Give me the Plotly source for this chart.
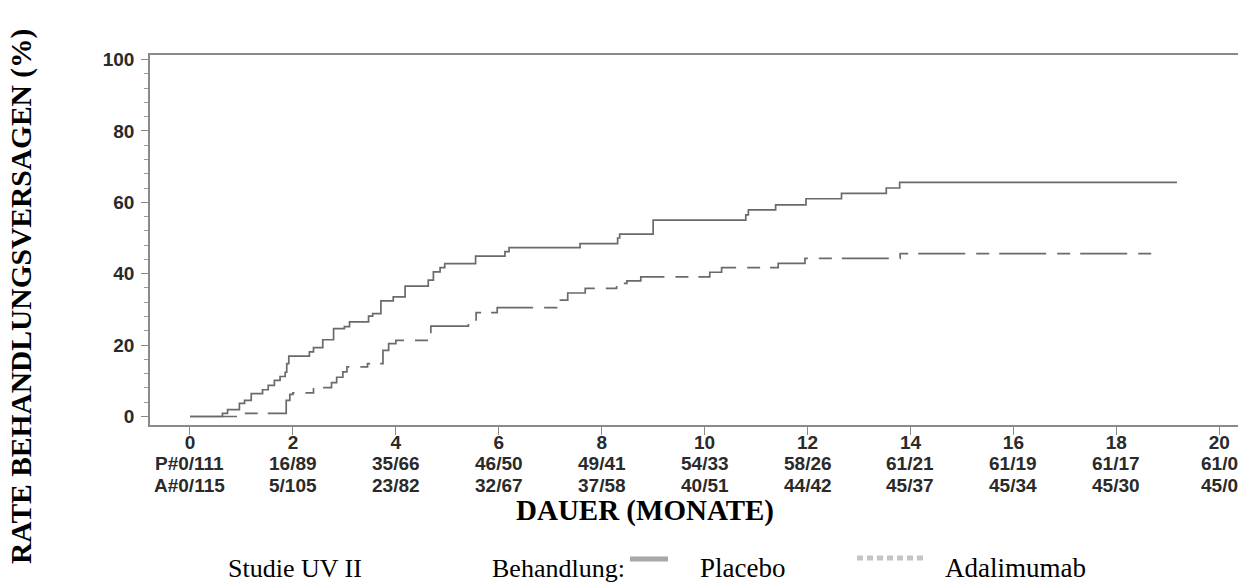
import plotly.graph_objects as go

# ---------------- data ----------------
placebo_t = [0, 0.63, 0.73, 0.96, 1.06, 1.19, 1.41, 1.52, 1.64, 1.75, 1.85, 1.88, 1.92,
             2.32, 2.40, 2.58, 2.79, 3.0, 3.1, 3.47, 3.55, 3.71, 3.95, 4.18, 4.63, 4.73,
             4.86, 4.95, 5.55, 6.12, 6.2, 7.58, 8.31, 8.35, 9.0, 10.8, 10.85, 11.38,
             11.97, 12.66, 13.53, 13.79, 19.18]
placebo_v = [0, 0.9, 1.9, 3.7, 4.5, 6.4, 7.5, 8.7, 10.1, 11.2, 12.4, 14.8, 16.9,
             18.1, 19.3, 21.5, 24.6, 25.2, 26.5, 28.1, 28.8, 32.4, 33.5, 36.5, 38.2, 40.5,
             41.7, 42.8, 44.9, 46.2, 47.3, 48.4, 50.0, 51.1, 55.0, 56.5, 57.9, 59.3,
             61.0, 62.5, 64.0, 65.6, 65.6]

ada_t = [0, 0.96, 1.87, 1.94, 2.0, 2.4, 2.75, 2.85, 2.97, 3.05, 3.45, 3.75, 3.86, 4.0,
         4.63, 4.68, 5.41, 5.56, 5.97, 7.13, 7.34, 7.68, 8.29, 8.49, 8.76, 10.1, 10.33,
         11.43, 11.95, 13.8, 18.83]
ada_v = [0, 0.9, 4.5, 6.2, 6.6, 8.1, 9.5, 11.0, 12.5, 13.9, 14.8, 18.5, 20.4, 21.3,
         22.5, 25.3, 26.3, 29.1, 30.5, 32.6, 34.6, 35.9, 37.3, 38.0, 39.1, 40.4, 41.7,
         42.9, 44.3, 45.6, 45.6]

risk_months = [0, 2, 4, 6, 8, 10, 12, 14, 16, 18, 20]
risk_placebo = ["P#0/111", "16/89", "35/66", "46/50", "49/41", "54/33", "58/26",
                "61/21", "61/19", "61/17", "61/0"]
risk_ada = ["A#0/115", "5/105", "23/82", "32/67", "37/58", "40/51", "44/42",
            "45/37", "45/34", "45/30", "45/0"]

y_title = "RATE BEHANDLUNGSVERSAGEN (%)"
x_title = "DAUER (MONATE)"

# ---------------- layout geometry ----------------
# the page body has an 8px margin, so the figure is 8px smaller than the window
OFF = 8
W, H = 1246 - OFF, 584 - OFF
L, R, T = 150 - OFF, 0, 55 - OFF
B = H - (425 - OFF)
PW, PH = W - L - R, H - T - B


def px(xp):
    """page x pixel -> paper coordinate"""
    return (xp - OFF - L) / PW


def py(yp):
    """page y pixel -> paper coordinate"""
    return (H - B - (yp - OFF)) / PH


LINE_COLOR = "#6a6a6a"
TICK_FONT = dict(family="Liberation Sans, Arial", size=19, color="#2a2a2a")
SERIF = "Liberation Serif, Times New Roman, serif"

fig = go.Figure()
fig.add_trace(go.Scatter(x=placebo_t, y=placebo_v, mode="lines", line_shape="hv",
                         line=dict(color=LINE_COLOR, width=1.7), name="Placebo",
                         showlegend=False))
fig.add_trace(go.Scatter(x=ada_t, y=ada_v, mode="lines", line_shape="hv",
                         line=dict(color=LINE_COLOR, width=1.7, dash="47px,11px,13px,10px"),
                         name="Adalimumab", showlegend=False))

annotations = []
for m, p, a in zip(risk_months, risk_placebo, risk_ada):
    annotations.append(dict(x=m, y=py(463), xref="x", yref="paper", text="<b>%s</b>" % p,
                            showarrow=False, font=TICK_FONT, xanchor="center", yanchor="middle"))
    annotations.append(dict(x=m, y=py(485), xref="x", yref="paper", text="<b>%s</b>" % a,
                            showarrow=False, font=TICK_FONT, xanchor="center", yanchor="middle"))

annotations.append(dict(x=px(645), y=py(510), xref="paper", yref="paper", text="<b>%s</b>" % x_title,
                        showarrow=False, font=dict(family=SERIF, size=29, color="#000"),
                        xanchor="center", yanchor="middle"))
annotations.append(dict(x=px(21), y=py(297), xref="paper", yref="paper", text="<b>%s</b>" % y_title,
                        showarrow=False, textangle=-90,
                        font=dict(family=SERIF, size=29.5, color="#000"),
                        xanchor="center", yanchor="middle"))

LEG_FONT = dict(family=SERIF, size=26, color="#000")
for txt, xc, fs in [("Studie UV II", 295, 26), ("Behandlung:", 558, 26),
                    ("Placebo", 742, 27), ("Adalimumab", 1015, 27)]:
    annotations.append(dict(x=px(xc), y=py(568), xref="paper", yref="paper", text=txt,
                            showarrow=False, font=dict(LEG_FONT, size=fs),
                            xanchor="center", yanchor="middle"))

shapes = [
    dict(type="line", xref="paper", yref="paper", x0=px(630), x1=px(668), y0=py(559), y1=py(559),
         line=dict(color="#a8a8a8", width=5)),
    dict(type="line", xref="paper", yref="paper", x0=px(857), x1=px(925), y0=py(558), y1=py(558),
         line=dict(color="#c4c4c4", width=5, dash="6px,4px")),
]

fig.update_layout(
    width=W, height=H,
    margin=dict(l=L, r=R, t=T, b=B, pad=0),
    paper_bgcolor="white", plot_bgcolor="white",
    annotations=annotations, shapes=shapes,
    xaxis=dict(range=[-0.777, 20.52], tickvals=risk_months,
               ticktext=["<b>%d</b>" % m for m in risk_months],
               showgrid=False, zeroline=False, showline=True, linecolor="#8a8a8a", linewidth=1.5,
               mirror=True, ticks="outside", ticklen=8, tickwidth=1.2, tickcolor="#8a8a8a",
               tickfont=TICK_FONT, ticklabelstandoff=-9),
    yaxis=dict(range=[-2.38, 101.26], tickvals=[0, 20, 40, 60, 80, 100],
               ticktext=["<b>%d</b>" % v for v in [0, 20, 40, 60, 80, 100]],
               showgrid=False, zeroline=False, showline=True, linecolor="#8a8a8a", linewidth=1.5,
               ticks="outside", ticklen=7, tickwidth=1.2, tickcolor="#8a8a8a",
               tickfont=TICK_FONT, ticklabelstandoff=3,
               minor=dict(dtick=4, tick0=0, ticks="outside", ticklen=4, tickcolor="#9a9a9a",
                          tickwidth=1, showgrid=False)),
)

fig.write_html("out.html")
